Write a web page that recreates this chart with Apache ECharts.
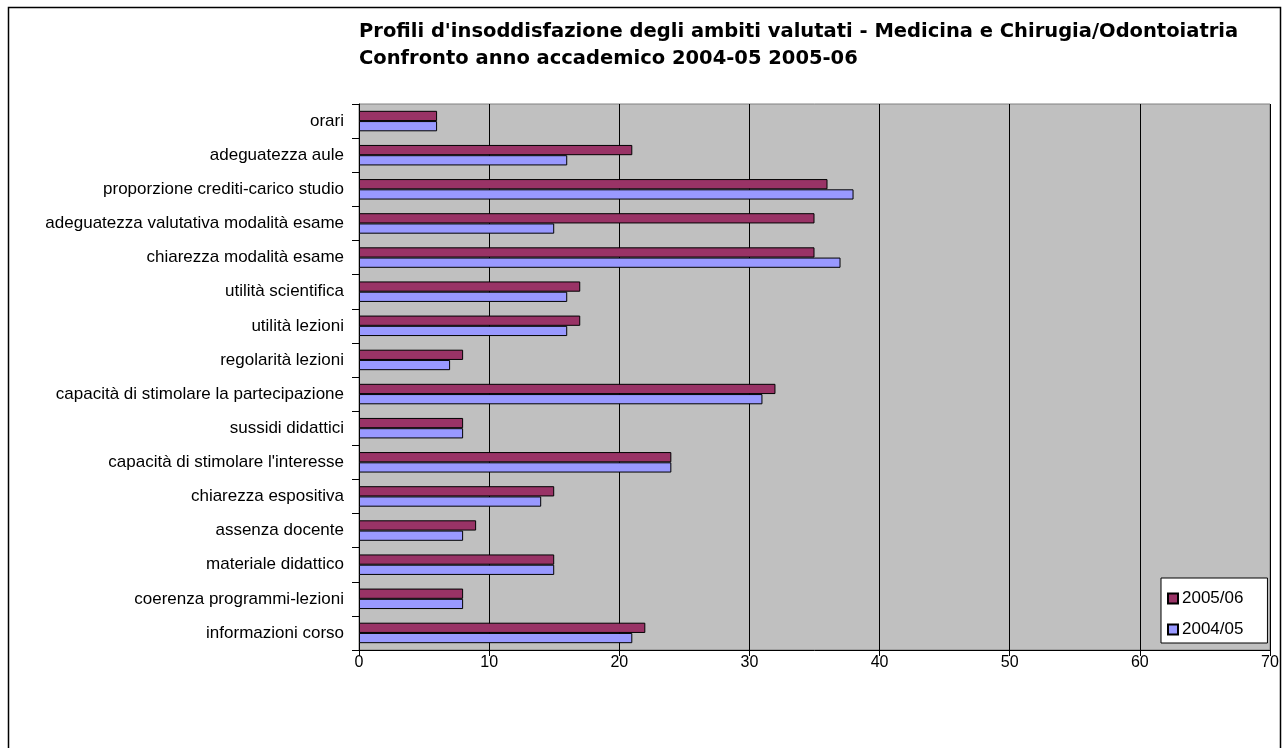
<!DOCTYPE html>
<html><head><meta charset="utf-8">
<script src="https://cdn.jsdelivr.net/npm/echarts@6/dist/echarts.min.js"></script>
<style>html,body{margin:0;padding:0;background:#fff}#c{width:1284px;height:748px}</style>
</head><body><div id="c"></div>
<script>
const categories = [
  "orari",
  "adeguatezza aule",
  "proporzione crediti-carico studio",
  "adeguatezza valutativa modalità esame",
  "chiarezza modalità esame",
  "utilità scientifica",
  "utilità lezioni",
  "regolarità lezioni",
  "capacità di stimolare la partecipazione",
  "sussidi didattici",
  "capacità di stimolare l'interesse",
  "chiarezza espositiva",
  "assenza docente",
  "materiale didattico",
  "coerenza programmi-lezioni",
  "informazioni corso"
];
const values2005_06 = [6, 21, 36, 35, 35, 17, 17, 8, 32, 8, 24, 15, 9, 15, 8, 22];
const values2004_05 = [6, 16, 38, 15, 37, 16, 16, 7, 31, 8, 24, 14, 8, 15, 8, 21];
const xTicks = [0, 10, 20, 30, 40, 50, 60, 70];
const titleLines = [
  "Profili d'insoddisfazione degli ambiti valutati - Medicina e Chirugia/Odontoiatria",
  "Confronto anno accademico 2004-05 2005-06"
];

const chart = echarts.init(document.getElementById('c'), null, {renderer: 'canvas'});
const font = "'Liberation Sans', Arial, sans-serif";
chart.setOption({
  animation: false,
  backgroundColor: '#ffffff',
  graphic: [{
    type: 'rect', shape: {x: 8.5, y: 7.5, width: 1272, height: 760},
    style: {fill: 'none', stroke: '#000', lineWidth: 1.5}, z: 0
  }],
  title: {
    text: titleLines.join('\n'),
    left: 354, top: 13,
    textStyle: {fontFamily: "'DejaVu Sans', Verdana, sans-serif", fontWeight: 'bold', fontSize: 19.5, lineHeight: 27, color: '#000'}
  },
  legend: {
    orient: 'vertical',
    left: 1161, top: 578,
    data: ['2005/06', '2004/05'],
    backgroundColor: '#fff', borderColor: '#000', borderWidth: 1,
    padding: [12, 24, 5, 6],
    itemWidth: 10, itemHeight: 10, itemGap: 14,
    icon: 'rect',
    textStyle: {fontFamily: font, fontSize: 17, color: '#000', padding: [0,0,0,-1]}
  },
  grid: {
    left: 359, top: 104, width: 911, height: 546,
    show: true, backgroundColor: '#c0c0c0', borderColor: '#808080', borderWidth: 1,
    containLabel: false
  },
  xAxis: {
    type: 'value', min: 0, max: 70, interval: 10,
    axisLine: {show: true, lineStyle: {color: '#000', width: 1}},
    axisTick: {show: true, length: 6, lineStyle: {color: '#000'}},
    axisLabel: {color: '#000', fontFamily: font, fontSize: 16, margin: 5,
      formatter: v => xTicks.includes(v) ? String(v) : ''},
    splitLine: {show: true, lineStyle: {color: '#000', width: 1}}
  },
  yAxis: {
    type: 'category', data: categories, inverse: true,
    axisLine: {show: true, lineStyle: {color: '#000', width: 1}},
    axisTick: {show: true, length: 7, lineStyle: {color: '#000'}},
    axisLabel: {color: '#000', fontFamily: font, fontSize: 17, margin: 15},
    splitLine: {show: false}
  },
  series: [
    {
      name: '2005/06', type: 'bar', data: values2005_06,
      itemStyle: {color: '#993366', borderColor: '#000', borderWidth: 1},
      barGap: '0%', barCategoryGap: '40%'
    },
    {
      name: '2004/05', type: 'bar', data: values2004_05,
      itemStyle: {color: '#9999ff', borderColor: '#000', borderWidth: 1},
      barGap: '0%', barCategoryGap: '40%'
    }
  ]
});
</script></body></html>
